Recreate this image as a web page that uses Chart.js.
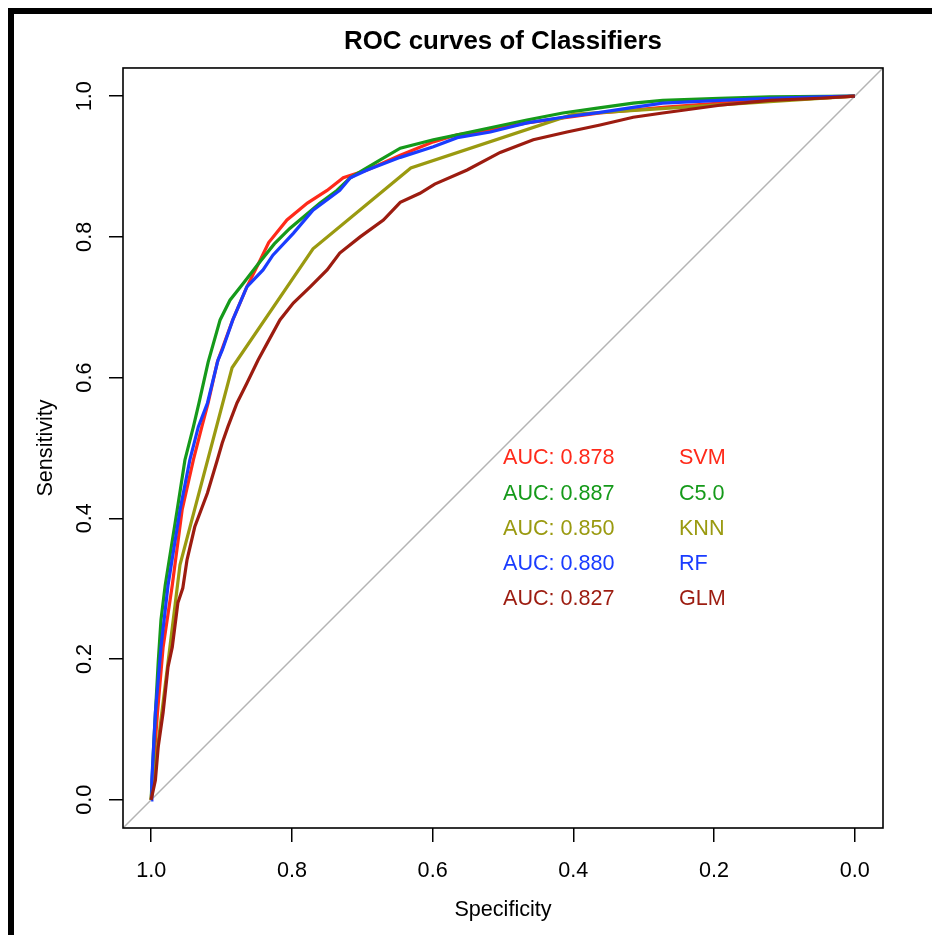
<!DOCTYPE html>
<html>
<head>
<meta charset="utf-8">
<title>ROC curves of Classifiers</title>
<script src="https://cdn.jsdelivr.net/npm/chart.js@4.4.1/dist/chart.umd.min.js"></script>
<style>
  html, body { margin: 0; padding: 0; background: #fff; }
  #wrap { position: relative; width: 932px; height: 935px; }
</style>
</head>
<body>
<div id="wrap"><canvas id="roc" width="932" height="935"></canvas></div>
<script>
// models and their AUC
const models = ['SVM', 'C5.0', 'KNN', 'RF', 'GLM'];
const aucValues = [0.878, 0.887, 0.850, 0.880, 0.827];
const colors = ['#ff2a1a', '#159a1a', '#9a9a10', '#1a3cff', '#9c1c10'];

const axisTicks = [0, 0.2, 0.4, 0.6, 0.8, 1.0];

// curves (specificity / sensitivity)
const svmSpec = [1.000, 0.991, 0.983, 0.970, 0.956, 0.940, 0.928, 0.919, 0.906, 0.891, 0.884, 0.864, 0.846, 0.833, 0.807, 0.778, 0.750, 0.727, 0.693, 0.646, 0.599, 0.565, 0.518, 0.466, 0.415, 0.362, 0.315, 0.273, 0.192, 0.121, 0.050, 0.000];
const svmSens = [0.000, 0.124, 0.217, 0.305, 0.412, 0.483, 0.530, 0.564, 0.622, 0.663, 0.682, 0.729, 0.765, 0.792, 0.824, 0.848, 0.866, 0.884, 0.895, 0.916, 0.935, 0.945, 0.952, 0.962, 0.969, 0.976, 0.980, 0.984, 0.990, 0.994, 0.997, 1.000];

const c50Spec = [1.000, 0.996, 0.990, 0.986, 0.980, 0.963, 0.952, 0.940, 0.932, 0.919, 0.902, 0.888, 0.869, 0.849, 0.825, 0.803, 0.760, 0.736, 0.717, 0.699, 0.675, 0.646, 0.599, 0.565, 0.518, 0.466, 0.415, 0.366, 0.315, 0.273, 0.192, 0.121, 0.000];
const c50Sens = [0.000, 0.085, 0.195, 0.256, 0.305, 0.412, 0.483, 0.530, 0.564, 0.622, 0.682, 0.710, 0.734, 0.760, 0.790, 0.812, 0.848, 0.866, 0.884, 0.895, 0.909, 0.926, 0.938, 0.945, 0.955, 0.966, 0.976, 0.983, 0.990, 0.994, 0.997, 0.999, 1.000];

const knnSpec = [1.000, 0.959, 0.885, 0.770, 0.631, 0.401, 0.000];
const knnSens = [0.000, 0.334, 0.614, 0.783, 0.898, 0.974, 1.000];

const rfSpec = [1.000, 0.999, 0.994, 0.986, 0.976, 0.959, 0.945, 0.933, 0.920, 0.905, 0.899, 0.884, 0.864, 0.841, 0.827, 0.798, 0.770, 0.732, 0.717, 0.693, 0.646, 0.599, 0.565, 0.518, 0.466, 0.415, 0.362, 0.315, 0.273, 0.192, 0.121, 0.050, 0.000];
const rfSens = [0.000, 0.028, 0.124, 0.217, 0.305, 0.412, 0.483, 0.530, 0.564, 0.625, 0.639, 0.682, 0.729, 0.753, 0.774, 0.805, 0.838, 0.866, 0.884, 0.895, 0.913, 0.928, 0.941, 0.949, 0.962, 0.970, 0.977, 0.984, 0.990, 0.994, 0.997, 0.999, 1.000];

const glmSpec = [1.000, 0.994, 0.990, 0.983, 0.976, 0.970, 0.962, 0.955, 0.949, 0.938, 0.920, 0.906, 0.899, 0.891, 0.878, 0.864, 0.848, 0.835, 0.817, 0.798, 0.774, 0.750, 0.732, 0.703, 0.670, 0.646, 0.618, 0.597, 0.551, 0.504, 0.457, 0.409, 0.362, 0.315, 0.273, 0.192, 0.121, 0.050, 0.000];
const glmSens = [0.000, 0.028, 0.075, 0.124, 0.189, 0.217, 0.280, 0.301, 0.341, 0.388, 0.436, 0.483, 0.507, 0.530, 0.564, 0.592, 0.625, 0.649, 0.682, 0.706, 0.729, 0.753, 0.777, 0.800, 0.824, 0.849, 0.862, 0.875, 0.895, 0.920, 0.938, 0.949, 0.959, 0.970, 0.976, 0.987, 0.994, 0.997, 1.000];

const FONT = '"Liberation Sans", Arial, Helvetica, sans-serif';

function curve(spec, sens) {
  return spec.map((s, i) => ({ x: s, y: sens[i] }));
}

// outer frame, white background and the box round the plot
const framePlugin = {
  id: 'frame',
  beforeDraw(chart) {
    const ctx = chart.ctx;
    ctx.save();
    ctx.fillStyle = '#fff';
    ctx.fillRect(0, 0, chart.width, chart.height);
    ctx.fillStyle = '#000';
    ctx.fillRect(8, 8, chart.width - 8, 6);
    ctx.fillRect(8, 8, 6, chart.height - 8);
    ctx.restore();
  },
  afterDraw(chart) {
    const a = chart.chartArea;
    const ctx = chart.ctx;
    ctx.save();
    ctx.strokeStyle = '#000';
    ctx.lineWidth = 1.6;
    ctx.strokeRect(a.left, a.top, a.right - a.left, a.bottom - a.top);
    ctx.restore();
  }
};

// AUC text inside the plot
const aucPlugin = {
  id: 'aucText',
  afterDatasetsDraw(chart) {
    const ctx = chart.ctx;
    const x = chart.scales.x, y = chart.scales.y;
    ctx.save();
    ctx.font = '21.6px ' + FONT;
    ctx.textAlign = 'left';
    ctx.textBaseline = 'middle';
    models.forEach((m, i) => {
      const py = y.getPixelForValue(0.485 - 0.05 * i);
      ctx.fillStyle = colors[i];
      ctx.fillText('AUC: ' + aucValues[i].toFixed(3), x.getPixelForValue(0.5), py);
      ctx.fillText(m, x.getPixelForValue(0.25), py);
    });
    ctx.restore();
  }
};

const specs = [svmSpec, c50Spec, knnSpec, rfSpec, glmSpec];
const senss = [svmSens, c50Sens, knnSens, rfSens, glmSens];

const datasets = [{
  label: 'chance',
  data: [{ x: 1.04, y: -0.04 }, { x: -0.04, y: 1.04 }],
  borderColor: '#b4b4b4',
  borderWidth: 1.5,
  order: 10
}];
models.forEach((m, i) => {
  datasets.push({
    label: m,
    data: curve(specs[i], senss[i]),
    borderColor: colors[i],
    borderWidth: 3.2,
    order: 5 - i
  });
});
datasets.forEach(d => {
  d.showLine = true;
  d.pointRadius = 0;
  d.fill = false;
  d.tension = 0;
});

const tickFont = { family: FONT, size: 21.6 };

new Chart(document.getElementById('roc'), {
  type: 'scatter',
  data: { datasets: datasets },
  options: {
    responsive: false,
    animation: false,
    layout: { padding: { left: 0, right: 49, top: 0, bottom: 0 } },
    plugins: {
      legend: { display: false },
      tooltip: { enabled: false },
      title: {
        display: true,
        fullSize: false,
        text: 'ROC curves of Classifiers',
        color: '#000',
        font: { family: FONT, size: 25.9, weight: 'bold' },
        padding: { top: 26.5, bottom: 10.4 }
      }
    },
    scales: {
      x: {
        type: 'linear',
        reverse: true,
        min: -0.04,
        max: 1.04,
        afterBuildTicks: s => { s.ticks = axisTicks.map(v => ({ value: v })); },
        afterFit: s => { s.height = 107; },
        grid: { drawOnChartArea: false, color: '#000', lineWidth: 1.5, tickLength: 14, tickWidth: 1.5 },
        border: { display: false },
        ticks: {
          callback: v => Number(v).toFixed(1),
          color: '#000',
          font: tickFont,
          padding: 16,
          maxRotation: 0,
          autoSkip: false
        },
        title: {
          display: true,
          text: 'Specificity',
          color: '#000',
          font: tickFont,
          padding: { top: 0, bottom: 12 }
        }
      },
      y: {
        type: 'linear',
        min: -0.04,
        max: 1.04,
        afterBuildTicks: s => { s.ticks = axisTicks.map(v => ({ value: v })); },
        afterFit: s => { s.width = 123; },
        grid: { drawOnChartArea: false, color: '#000', lineWidth: 1.5, tickLength: 14, tickWidth: 1.5 },
        border: { display: false },
        ticks: {
          callback: v => Number(v).toFixed(1),
          color: '#000',
          font: tickFont,
          padding: 9,
          minRotation: 90,
          maxRotation: 90,
          crossAlign: 'center',
          autoSkip: false
        },
        title: {
          display: true,
          text: 'Sensitivity',
          color: '#000',
          font: tickFont,
          padding: { top: 33, bottom: 0 }
        }
      }
    }
  },
  plugins: [framePlugin, aucPlugin]
});
</script>
</body>
</html>
